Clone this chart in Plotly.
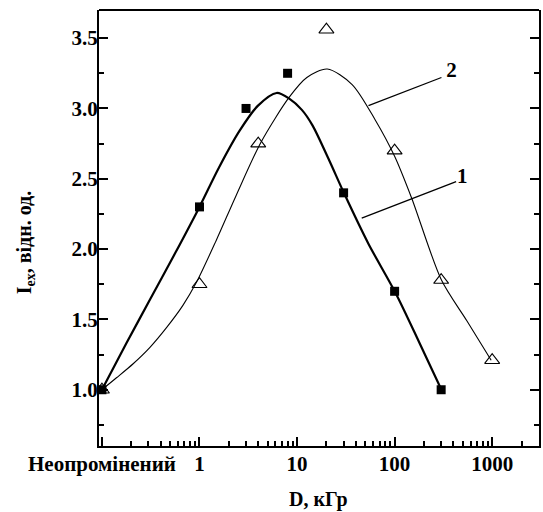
import plotly.graph_objects as go

# Dose values (kGy); 0.1 is the position of the "unirradiated" sample
dose1 = [0.1, 1, 3, 8, 30, 100, 300]
iex1 = [1.0, 2.3, 3.0, 3.25, 2.4, 1.7, 1.0]
dose2 = [0.1, 1, 4, 20, 100, 300, 1000]
iex2 = [1.0, 1.75, 2.75, 3.56, 2.7, 1.78, 1.21]

# fitted curves
fit1_x = [0.1, 0.178, 0.316, 0.562, 1.0, 1.585, 2.57, 3.98, 6.17, 8.32, 11.2, 14.4, 21.4, 30.2, 53.7, 102, 178, 302]
fit1_y = [1.00, 1.33, 1.65, 1.97, 2.30, 2.58, 2.84, 3.02, 3.11, 3.07, 2.99, 2.88, 2.63, 2.40, 2.04, 1.69, 1.34, 1.00]
fit2_x = [0.1, 0.141, 0.209, 0.309, 0.457, 0.676, 0.925, 1.48, 2.37, 4.27, 8.32, 12.6, 20.4, 36.7, 63.1, 100, 150, 302, 550, 977]
fit2_y = [1.00, 1.085, 1.185, 1.30, 1.44, 1.60, 1.76, 2.06, 2.38, 2.76, 3.08, 3.22, 3.28, 3.17, 2.92, 2.66, 2.36, 1.78, 1.49, 1.21]

# curve labels and leader lines
lab_text = ["1", "2"]
lab_x = [494, 383]
lab_y = [2.51, 3.26]
lead1_x = [46, 427]
lead1_y = [2.22, 2.48]
lead2_x = [54, 302]
lead2_y = [3.02, 3.22]

tick_vals = [0.1, 1, 10, 100, 1000]
tick_text = ["Неопромінений", "1", "10", "100", "1000"]

FONT = "Liberation Serif"

fig = go.Figure()
fig.add_trace(go.Scatter(x=fit1_x, y=fit1_y, mode="lines", line=dict(color="black", width=2.2, shape="spline", smoothing=0.8)))
fig.add_trace(go.Scatter(x=fit2_x, y=fit2_y, mode="lines", line=dict(color="black", width=1.1, shape="spline", smoothing=0.8)))
fig.add_trace(go.Scatter(x=dose1, y=iex1, mode="markers", marker=dict(symbol="square", size=9, color="black", line=dict(width=0))))
fig.add_trace(go.Scatter(x=dose2, y=iex2, mode="markers", marker=dict(symbol="triangle-up-open", size=13, color="black", line=dict(width=1.1))))
fig.add_trace(go.Scatter(x=lead1_x, y=lead1_y, mode="lines", line=dict(color="black", width=1.3)))
fig.add_trace(go.Scatter(x=lead2_x, y=lead2_y, mode="lines", line=dict(color="black", width=1.3)))
fig.add_trace(go.Scatter(x=lab_x, y=lab_y, mode="text", text=lab_text, textposition="middle center",
                         textfont=dict(family=FONT, size=21, color="black", weight="bold")))

minor_x = [v * m for v in [0.1, 1, 10, 100, 1000] for m in range(2, 10)]

tfont = dict(family=FONT, size=21, color="black", weight="bold")

fig.update_layout(
    width=543, height=512,
    margin=dict(l=99, r=2, t=10, b=66),
    plot_bgcolor="white", paper_bgcolor="white",
    showlegend=False,
    font=dict(family=FONT, color="black"),
    xaxis=dict(
        type="log", range=[-1.03, 3.48],
        tickvals=tick_vals, ticktext=tick_text,
        ticks="inside", ticklen=9, tickwidth=1.5, tickcolor="black",
        showline=True, linewidth=2, linecolor="black", mirror=False,
        showgrid=False, zeroline=False,
        ticklabelstandoff=-2,
        tickfont=tfont,
        minor=dict(tickvals=minor_x, ticks="inside", ticklen=5, tickwidth=1.5, tickcolor="black", showgrid=False),
    ),
    yaxis=dict(
        range=[0.6, 3.7],
        tickvals=[1.0, 1.5, 2.0, 2.5, 3.0, 3.5], ticktext=["1.0", "1.5", "2.0", "2.5", "3.0", "3.5"],
        ticks="inside", ticklen=9, tickwidth=1.5, tickcolor="black",
        showline=True, linewidth=2, linecolor="black", mirror="ticks",
        showgrid=False, zeroline=False,
        ticklabelstandoff=-5,
        tickfont=tfont,
        minor=dict(tickvals=[0.75, 1.25, 1.75, 2.25, 2.75, 3.25], ticks="inside", ticklen=5, tickwidth=1.5, tickcolor="black", showgrid=False),
    ),
    shapes=[dict(type="line", xref="paper", yref="paper", x0=0, x1=1, y0=1, y1=1, line=dict(color="black", width=2))],
    annotations=[
        dict(text="<b>D, кГр</b>", xref="paper", yref="paper", x=0.498, y=-0.122, showarrow=False,
             xanchor="center", yanchor="middle", font=dict(family=FONT, size=20, color="black")),
        dict(text="<b>I<sub>ex</sub>, відн. од.</b>", xref="paper", yref="paper", x=-0.167, y=0.466, showarrow=False,
             textangle=-90, xanchor="center", yanchor="middle", font=dict(family=FONT, size=20, color="black")),
    ],
)
for tr in fig.data:
    tr.update(hoverinfo="skip")

fig.write_html("out.html", config={"displayModeBar": False}, post_script="document.body.style.margin='0px';")
